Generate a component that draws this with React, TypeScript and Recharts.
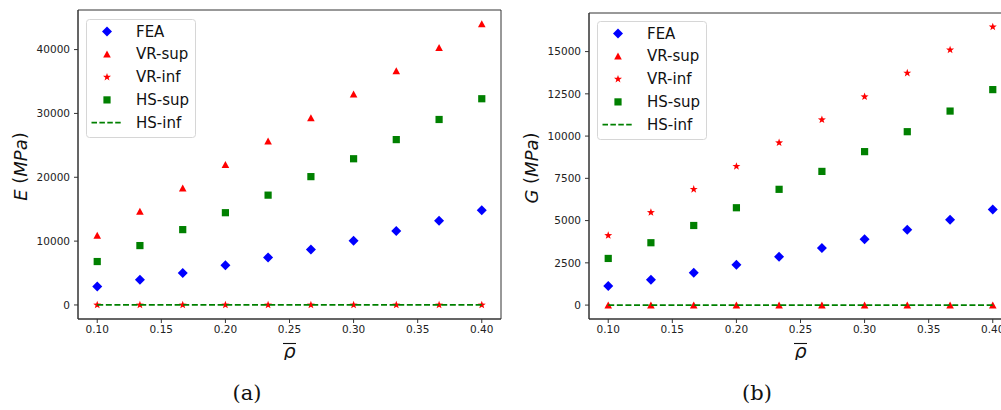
import {
  Label,
  Legend,
  ReferenceArea,
  Scatter,
  ScatterChart,
  XAxis,
  YAxis,
} from "recharts";

// relative density (x axis)
const rho = [0.1, 0.1333, 0.1667, 0.2, 0.2333, 0.2667, 0.3, 0.3333, 0.3667, 0.4];
const xTicks = [0.1, 0.15, 0.2, 0.25, 0.3, 0.35, 0.4];

// (a) Young's modulus E (MPa)
const eFea = [2900, 3950, 5000, 6200, 7450, 8700, 10050, 11600, 13200, 14850];
const eVrSup = [10900, 14650, 18300, 21950, 25650, 29300, 33000, 36650, 40300, 44000];
const eVrInf = [0, 0, 0, 0, 0, 0, 0, 0, 0, 0];
const eHsSup = [6800, 9300, 11800, 14450, 17200, 20100, 22900, 25900, 29050, 32300];
const eHsInf = [0, 0, 0, 0, 0, 0, 0, 0, 0, 0];
const eTicks = [0, 10000, 20000, 30000, 40000];

// (b) shear modulus G (MPa)
const gFea = [1130, 1500, 1910, 2390, 2860, 3380, 3890, 4460, 5050, 5660];
const gVrSup = [0, 0, 0, 0, 0, 0, 0, 0, 0, 0];
const gVrInf = [4120, 5480, 6850, 8210, 9610, 10970, 12330, 13730, 15100, 16460];
const gHsSup = [2760, 3690, 4710, 5760, 6850, 7910, 9080, 10260, 11480, 12750];
const gHsInf = [0, 0, 0, 0, 0, 0, 0, 0, 0, 0];
const gTicks = [0, 2500, 5000, 7500, 10000, 12500, 15000];

const seriesNames = ["FEA", "VR-sup", "VR-inf", "HS-sup", "HS-inf"];

const BLUE = "#0000ff";
const RED = "#ff0000";
const GREEN = "#008000";
const FONT = "DejaVu Sans";

const toPoints = (ys: number[]) => rho.map((x, i) => ({ x, y: ys[i] }));

// matplotlib style autoscale: 5% margin on each side
const pad = (lists: number[][]): [number, number] => {
  const all = lists.flat();
  const lo = Math.min(...all);
  const hi = Math.max(...all);
  const m = (hi - lo) * 0.05;
  return [lo - m, hi + m];
};

const diamond = (cx: number, cy: number) => (
  <polygon
    points={`${cx},${cy - 5} ${cx + 5},${cy} ${cx},${cy + 5} ${cx - 5},${cy}`}
    fill={BLUE}
  />
);
const triangle = (cx: number, cy: number) => (
  <polygon
    points={`${cx},${cy - 3.7} ${cx + 3.8},${cy + 3.3} ${cx - 3.8},${cy + 3.3}`}
    fill={RED}
  />
);
const star = (cx: number, cy: number) => {
  const pts: string[] = [];
  for (let i = 0; i < 10; i++) {
    const r = i % 2 === 0 ? 4.2 : 1.7;
    const a = -Math.PI / 2 + (i * Math.PI) / 5;
    pts.push(`${cx + r * Math.cos(a)},${cy + r * Math.sin(a)}`);
  }
  return <polygon points={pts.join(" ")} fill={RED} />;
};
const square = (cx: number, cy: number) => (
  <rect x={cx - 3.6} y={cy - 3.6} width={7.2} height={7.2} fill={GREEN} />
);
const dashed = (cx: number, cy: number) => (
  <line
    x1={cx - 15.5}
    x2={cx + 15.5}
    y1={cy}
    y2={cy}
    stroke={GREEN}
    strokeWidth={1.8}
    strokeDasharray="5.5 2.4"
  />
);

const markers = [diamond, triangle, star, square, dashed];

const shapeOf = (fn: (cx: number, cy: number) => JSX.Element) => (p: any) =>
  fn(p.cx, p.cy);

function LegendBox() {
  return (
    <svg width={111} height={120} style={{ display: "block" }}>
      <rect
        x={0.5}
        y={0.5}
        width={109}
        height={118}
        rx={3}
        fill="rgba(255,255,255,0.8)"
        stroke="#d6d6d6"
      />
      {seriesNames.map((name, i) => {
        const cy = 12.5 + i * 22.8;
        return (
          <g key={name}>
            {markers[i](21, cy)}
            <text
              x={50}
              y={cy}
              dominantBaseline="central"
              fontFamily={FONT}
              fontSize={15}
              fill="#111"
            >
              {name}
            </text>
          </g>
        );
      })}
    </svg>
  );
}

function RhoLabel(props: any) {
  const { x, y, width } = props.viewBox;
  const cx = x + width / 2;
  const base = y + 38.5;
  return (
    <g>
      <text
        x={cx}
        y={base}
        textAnchor="middle"
        fontFamily={FONT}
        fontStyle="italic"
        fontSize={19}
        fill="#111"
      >
        ρ
      </text>
      <line x1={cx - 6.5} x2={cx + 6.5} y1={y + 24.5} y2={y + 24.5} stroke="#111" strokeWidth={1.1} />
    </g>
  );
}

function ModulusLabel(letter: string) {
  return (props: any) => {
    const { x, y, width, height } = props.viewBox;
    const cx = x + width - 58.5;
    const cy = y + height / 2 + 2;
    return (
      <text
        x={cx}
        y={cy}
        transform={`rotate(-90 ${cx} ${cy})`}
        textAnchor="middle"
        dominantBaseline="central"
        fontFamily={FONT}
        fontSize={18}
        fill="#111"
      >
        <tspan fontStyle="italic">{letter}</tspan>
        {" ("}
        <tspan fontStyle="italic">MPa</tspan>
        {")"}
      </text>
    );
  };
}

type PanelProps = {
  left: number;
  width: number;
  top: number;
  axisWidth: number;
  marginRight: number;
  letter: string;
  ticks: number[];
  series: number[][];
  legendPos: { left: number; top: number };
};

function Panel({ left, width, top, axisWidth, marginRight, letter, ticks, series, legendPos }: PanelProps) {
  const xDomain: [number, number] = [0.085, 0.415];
  const yDomain = pad(series);
  const tickStyle = { fill: "#222", fontSize: 10.5, fontFamily: FONT };
  return (
    <div style={{ position: "absolute", left, top: 0 }}>
      <ScatterChart
        width={width}
        height={360}
        margin={{ top, right: marginRight, bottom: 0, left: 0 }}
      >
        <ReferenceArea
          x1={xDomain[0]}
          x2={xDomain[1]}
          y1={yDomain[0]}
          y2={yDomain[1]}
          fill="none"
          stroke="#333"
          strokeWidth={1}
          ifOverflow="visible"
        />
        <XAxis
          type="number"
          dataKey="x"
          domain={xDomain}
          allowDataOverflow
          ticks={xTicks}
          interval={0}
          tickFormatter={(v: number) => v.toFixed(2)}
          height={41}
          tickSize={4}
          tickMargin={3}
          axisLine={{ stroke: "#333" }}
          tickLine={{ stroke: "#333" }}
          tick={tickStyle}
        >
          <Label content={RhoLabel} />
        </XAxis>
        <YAxis
          type="number"
          dataKey="y"
          domain={yDomain}
          allowDataOverflow
          ticks={ticks}
          interval={0}
          width={axisWidth}
          tickSize={4}
          tickMargin={4}
          axisLine={{ stroke: "#333" }}
          tickLine={{ stroke: "#333" }}
          tick={tickStyle}
        >
          <Label content={ModulusLabel(letter)} />
        </YAxis>
        <Legend
          layout="vertical"
          align="center"
          verticalAlign="middle"
          content={() => <LegendBox />}
          wrapperStyle={{ left: legendPos.left, top: legendPos.top, width: "auto", height: "auto" }}
        />
        <Scatter name="FEA" data={toPoints(series[0])} shape={shapeOf(diamond)} isAnimationActive={false} />
        <Scatter name="VR-sup" data={toPoints(series[1])} shape={shapeOf(triangle)} isAnimationActive={false} />
        <Scatter name="VR-inf" data={toPoints(series[2])} shape={shapeOf(star)} isAnimationActive={false} />
        <Scatter name="HS-sup" data={toPoints(series[3])} shape={shapeOf(square)} isAnimationActive={false} />
        <Scatter
          name="HS-inf"
          data={toPoints(series[4])}
          line={{ stroke: GREEN, strokeWidth: 1.8, strokeDasharray: "6 2.6" }}
          shape={() => <g />}
          isAnimationActive={false}
        />
      </ScatterChart>
    </div>
  );
}

const captionStyle = {
  position: "absolute" as const,
  top: 378,
  width: 60,
  textAlign: "center" as const,
  fontFamily: "DejaVu Serif",
  fontSize: 21,
  color: "#111",
  lineHeight: "30px",
};

export default function App() {
  return (
    <div
      style={{
        position: "absolute",
        left: 0,
        top: 0,
        width: 1001,
        height: 410,
        overflow: "hidden",
        background: "#fff",
      }}
    >
      <Panel
        left={0}
        width={520}
        top={10}
        axisWidth={78}
        marginRight={19}
        letter="E"
        ticks={eTicks}
        series={[eFea, eVrSup, eVrInf, eHsSup, eHsInf]}
        legendPos={{ left: 86, top: 18.5 }}
      />
      <Panel
        left={500}
        width={530}
        top={13}
        axisWidth={89}
        marginRight={18}
        letter="G"
        ticks={gTicks}
        series={[gFea, gVrSup, gVrInf, gHsSup, gHsInf]}
        legendPos={{ left: 97, top: 20.5 }}
      />
      <div style={{ ...captionStyle, left: 217 }}>(a)</div>
      <div style={{ ...captionStyle, left: 727 }}>(b)</div>
    </div>
  );
}
